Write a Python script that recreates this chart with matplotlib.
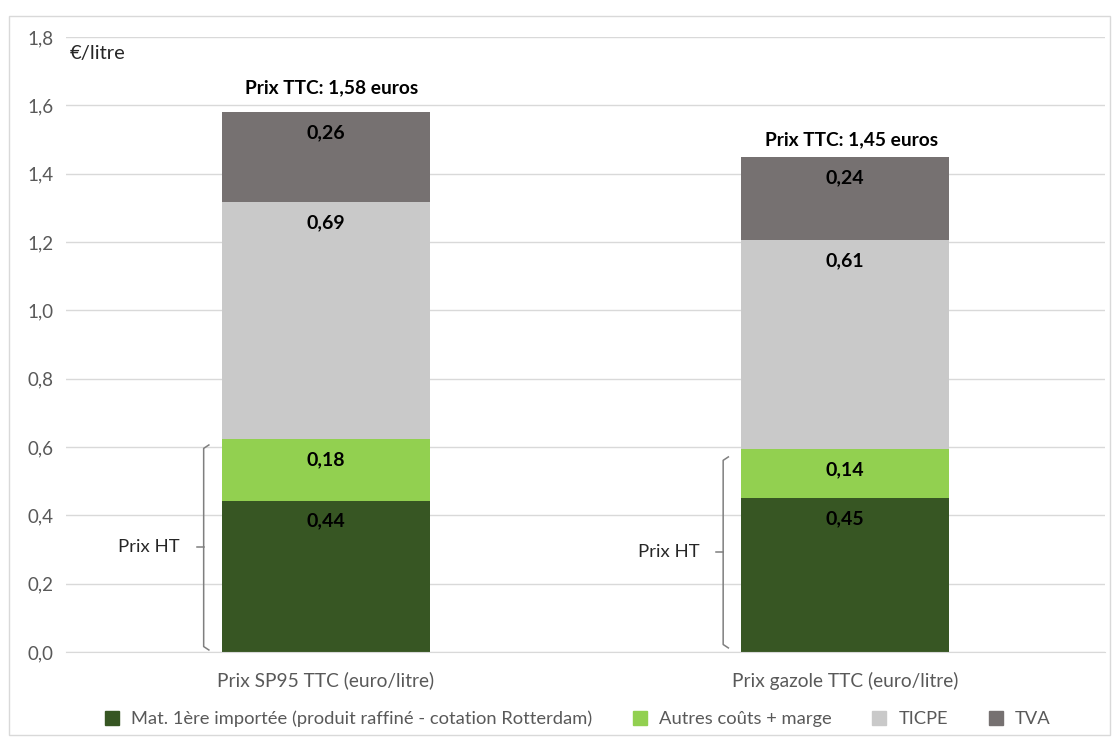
import numpy as np
import matplotlib
matplotlib.use("Agg")
from matplotlib import pyplot as plt
from matplotlib.patches import Rectangle
from matplotlib.lines import Line2D

plt.rcParams["font.family"] = ["Lato", "DejaVu Sans"]

# Data
categories = ["Prix SP95 TTC (euro/litre)", "Prix gazole TTC (euro/litre)"]
series_names = ["Mat. 1ère importée (produit raffiné - cotation Rotterdam)",
                "Autres coûts + marge", "TICPE", "TVA"]
matiere = [0.443, 0.451]
autres = [0.180, 0.143]
ticpe = [0.694, 0.612]
tva = [0.263, 0.243]
colors = ["#375623", "#92d050", "#c9c9c9", "#767171"]


def fr(v):
    return f"{v:.2f}".replace(".", ",")


fig = plt.figure(figsize=(11.13, 7.38), dpi=100)
ax = fig.add_axes([0.0593, 0.1165, 0.9335, 0.8334])

# Chart border
fig.patches.append(Rectangle((9 / 1113, 3 / 738), 1101 / 1113, 719 / 738,
                             transform=fig.transFigure, fill=False,
                             edgecolor="#d9d9d9", linewidth=1))

x = np.arange(len(categories))
width = 0.40
series = [matiere, autres, ticpe, tva]
bottom = np.zeros(len(categories))
for vals, col in zip(series, colors):
    vals = np.array(vals)
    ax.bar(x, vals, width, bottom=bottom, color=col, zorder=2)
    for xi, b, v in zip(x, bottom, vals):
        ax.text(xi, b + v - 0.06, fr(v), ha="center", va="center",
                fontsize=14, fontweight="bold", color="black", zorder=3)
    bottom = bottom + vals

# Total labels
ttc_offsets = [0.07, 0.05]
for xi, tot, off in zip(x, bottom, ttc_offsets):
    ax.text(xi + 0.012, tot + off, f"Prix TTC: {fr(tot)} euros", ha="center",
            va="center", fontsize=13.8, fontweight="bold", color="black")

# Braces for "Prix HT"
brace_tops = [0.606, 0.571]
brace_bots = [0.006, 0.012]
for xi, top, bot in zip(x, brace_tops, brace_bots):
    bx = xi - 0.235
    mid = (top + bot) / 2
    ax.plot([bx + 0.01, bx, bx, bx + 0.01], [top, top - 0.01, bot + 0.01, bot],
            color="#7f7f7f", lw=1.1, zorder=3)
    ax.plot([bx, bx - 0.013], [mid, mid], color="#7f7f7f", lw=1.1, zorder=3)
    ax.text(bx - 0.046, mid, "Prix HT", ha="right", va="center",
            fontsize=13.3, color="#262626")

ax.text(0.004, 1.752, "€/litre", ha="left", va="center", fontsize=14.5,
        color="#262626", transform=ax.get_yaxis_transform())

ax.set_xlim(-0.5, 1.5)
ax.set_ylim(0, 1.8)
ax.set_yticks(np.arange(0, 1.81, 0.2))
ax.set_yticklabels([f"{t:.1f}".replace(".", ",") for t in np.arange(0, 1.81, 0.2)])
ax.set_xticks(x)
ax.set_xticklabels(categories)
ax.tick_params(axis="y", length=0, pad=9, labelsize=13.5, labelcolor="#595959")
ax.tick_params(axis="x", length=0, pad=14, labelsize=13.8, labelcolor="#595959")
ax.yaxis.grid(True, color="#d9d9d9", lw=1, zorder=0)
ax.set_axisbelow(True)
for s in ["top", "right", "left"]:
    ax.spines[s].set_visible(False)
ax.spines["bottom"].set_color("#d9d9d9")

handles = [Line2D([], [], marker="s", linestyle="none", markersize=10,
                  markerfacecolor=c, markeredgecolor=c) for c in colors]
fig.legend(handles, series_names, loc="center", bbox_to_anchor=(0.514, 0.026),
           ncol=4, frameon=False, fontsize=13.2, handletextpad=0.05,
           columnspacing=1.6, labelcolor="#595959")

fig.savefig("out.png", dpi=100)
